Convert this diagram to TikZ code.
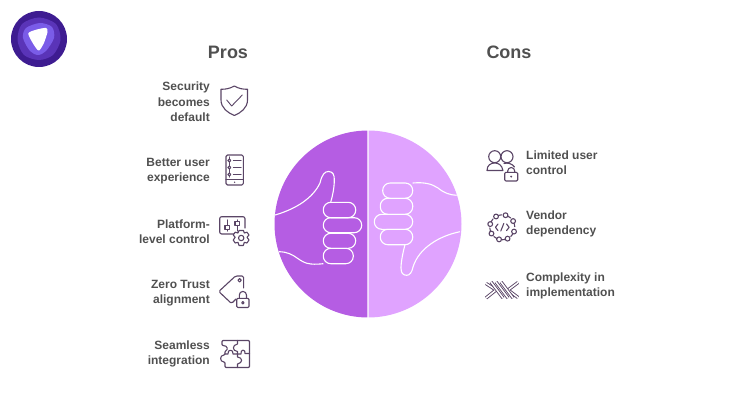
\documentclass[tikz,border=0pt]{standalone}
\usepackage{fontspec}
\setmainfont{Liberation Sans}
\usepackage{xcolor}
\usetikzlibrary{arrows.meta,positioning,calc}
\definecolor{prosfill}{HTML}{B55DE3}
\definecolor{consfill}{HTML}{E0A3FF}
\definecolor{iconline}{HTML}{5A4566}
\definecolor{textgray}{HTML}{505050}
\definecolor{logoa}{HTML}{3E1C91}
\definecolor{logob}{HTML}{5A34B8}
\definecolor{logoc}{HTML}{7A5CE8}
\begin{document}
\begin{tikzpicture}[
    x=1pt, y=-1pt,
    heading/.style={font=\fontsize{18}{22}\selectfont\bfseries, text=textgray, inner sep=0pt},
    proslabel/.style={font=\fontsize{12}{15.3}\selectfont\bfseries, text=textgray,
                      align=right, anchor=east, inner sep=0pt},
    conslabel/.style={font=\fontsize{12}{15.3}\selectfont\bfseries, text=textgray,
                      align=left, anchor=west, inner sep=0pt},
    icon/.style={draw=iconline, line width=1.1pt, line join=round, line cap=round},
    rope/.style={draw=iconline, line width=0.9pt, double=white, double distance=1.5pt},
    hand/.style={draw=white, line width=1.1pt},
    finger/.style={hand, rounded corners=7.4pt},
  ]
  \useasboundingbox (0,0) rectangle (740,420);

  % Logo
  \fill[logoa] (39,39) circle[radius=28];
  \fill[logob] plot[smooth cycle] coordinates {(39,17.5) (56,24) (60.5,40) (53,55) (39,60) (24,55) (17.5,40) (22,24)};
  \fill[logoc] plot[smooth cycle] coordinates {(40,23) (52,27) (54,38) (46,51) (38,55) (30,51) (23,38) (26,28)};
  \fill[white] plot[smooth cycle] coordinates {(28.5,33) (37,29.5) (46,28) (47.5,32) (43.5,44) (39,50.5) (36,48) (31,40)};

  % Headings
  \node[heading] (pros) at (228,52) {Pros};
  \node[heading] (cons) at (509,52) {Cons};

  % Disc
  \begin{scope}
    \clip (270,125) rectangle (367.3,325);
    \fill[prosfill] (368,224) circle[radius=93.5];
  \end{scope}
  \begin{scope}
    \clip (368.7,125) rectangle (470,325);
    \fill[consfill] (368,224) circle[radius=93.5];
  \end{scope}

  % Thumb up
  \draw[finger] (323.3,202.3) rectangle (355.7,217.7);
  \draw[finger] (323.3,217.7) rectangle (361.7,232.7);
  \draw[finger] (323.3,233.3) rectangle (355.7,248.3);
  \draw[finger] (323.3,248.3) rectangle (353.3,263.7);
  \draw[hand] (275,215) .. controls (296,209) and (313,198) .. (320,183)
    .. controls (322,174) and (325,171.5) .. (328.5,171.5)
    .. controls (333,171.5) and (334.5,175) .. (334.3,180)
    .. controls (334.3,188) and (332.5,196) .. (330.7,202.3);
  \draw[hand] (279,251.7) .. controls (296,252) and (298,263) .. (311,264)
    .. controls (316,264.5) and (320,264) .. (323.3,263.7);

  % Thumb down
  \draw[finger] (382.7,183) rectangle (412.7,198.3);
  \draw[finger] (380.3,198.3) rectangle (412.7,214.3);
  \draw[finger] (374.3,214.3) rectangle (412.7,229.3);
  \draw[finger] (380.3,229.3) rectangle (412.7,244.7);
  \draw[hand] (412.7,183) .. controls (425,182) and (432,184) .. (438,188)
    .. controls (444,193) and (450,195) .. (456.7,195.3);
  \draw[hand] (405,244.7) .. controls (403,252) and (401,262) .. (401,268)
    .. controls (401,273) and (403,275.3) .. (406.7,275.3)
    .. controls (410,275.3) and (412,272) .. (413,267)
    .. controls (419,248) and (439,236) .. (460,231.7);

  % Pros labels
  \node[proslabel] (security) at (210,102) {Security\\becomes\\default};
  \node[proslabel] (better) at (210,171) {Better user\\experience};
  \node[proslabel] (platform) at (210,232) {Platform-\\level control};
  \node[proslabel] (zerotrust) at (210,293) {Zero Trust\\alignment};
  \node[proslabel] (seamless) at (210,354) {Seamless\\integration};

  % Cons labels
  \node[conslabel] (limited) at (526,163) {Limited user\\control};
  \node[conslabel] (vendor) at (526,224) {Vendor\\dependency};
  \node[conslabel] (complexity) at (526,286) {Complexity in\\implementation};

  % Shield icon
  \draw[icon] (234.3,86) .. controls (230,88.5) and (226,89.3) .. (221,89.3)
    -- (221,100) .. controls (221,108) and (228,113) .. (234.3,115.5)
    .. controls (240.6,113) and (247.5,108) .. (247.5,100)
    -- (247.5,89.3) .. controls (242.5,89.3) and (238.5,88.5) .. (234.3,86) -- cycle;
  \draw[icon, line width=0.9pt] (226.7,100) -- (231.7,106) -- (242.3,95);

  % Phone icon
  \draw[icon, rounded corners=1.5pt] (226,155) rectangle (243.3,185);
  \draw[icon] (226,179.3) -- (243.3,179.3);
  \draw[icon] (229.3,157) -- (229.3,177);
  \foreach \y in {160.5,167.5,174.5} {
    \draw[icon, fill=white] (229.3,\y) circle[radius=1.5];
    \draw[icon] (233.3,\y) -- (241,\y);
  }
  \fill[iconline] (234.6,182.2) circle[radius=0.8];

  % Control icon
  \draw[icon, rounded corners=2pt] (236,234) -- (219.7,234) -- (219.7,216.7) -- (245,216.7) -- (245,228);
  \draw[icon] (227.3,220) -- (227.3,225.5) (227.3,229.5) -- (227.3,231);
  \draw[icon] (225,229.5) -- (229.6,229.5) -- (229.6,225.5) -- (225,225.5) -- cycle;
  \draw[icon] (237.3,220) -- (237.3,221.5) (237.3,225.5) -- (237.3,231);
  \draw[icon] (235,221.5) -- (239.6,221.5) -- (239.6,225.5) -- (235,225.5) -- cycle;
  \draw[icon, fill=white] (239,230.5) -- (243.5,230.5) -- (244.3,233)
    -- (247,232.2) -- (249,235) -- (247,237.3) -- (249,240) -- (247,243)
    -- (244.3,242.3) -- (243.3,245.5) -- (239,245.5) -- (238,242.3)
    -- (235.2,243) -- (233.2,240) -- (235.2,237.3) -- (233.2,235) -- (235.2,232.2)
    -- (238,233) -- cycle;
  \draw[icon] (241.2,238) circle[radius=2.7];

  % Tag icon
  \draw[icon, rounded corners=1.5pt] (236,299) -- (231.5,303.5) -- (218.8,291.5) -- (235.5,276)
    -- (243.6,276) -- (243.6,288);
  \draw[icon] (239.6,280.3) circle[radius=1.7];
  \draw[icon, rounded corners=1.2pt] (236.7,298.3) rectangle (249,307.5);
  \draw[icon] (239.3,298.3) -- (239.3,295) arc[start angle=180, end angle=360, x radius=3.6, y radius=3.6] -- (246.5,298.3);
  \draw[icon] (242.9,302.8) circle[radius=1.2];

  % Puzzle icon
  \draw[icon, rounded corners=1pt] (222,340.5) -- (249.5,340.5) -- (249.5,367.5) -- (225,367.5)
    -- (225,362) .. controls (219.5,362) and (219.5,355) .. (225,355)
    -- (225,351) .. controls (228,350) and (228,345.5) .. (222,345.5) -- cycle;
  \draw[icon] (237.5,340.5) -- (237.5,344) .. controls (232,345) and (232,351) .. (237.5,351.5)
    -- (237.5,354) -- (233,354) .. controls (234,349) and (227,349) .. (228,354) -- (225,354);
  \draw[icon] (249.5,353.5) -- (245,353.5) .. controls (246,349) and (240,349) .. (241,354) -- (237.5,354)
    -- (237.5,357) .. controls (243,357.5) and (243,363) .. (237.5,364) -- (237.5,367.5);

  % Users icon
  \draw[icon] (494.7,156.7) circle[radius=6];
  \draw[icon] (507,156.7) circle[radius=6];
  \draw[icon] (487,170.5) .. controls (487,165) and (491,163) .. (494.7,163)
    .. controls (498.5,163) and (502,165) .. (503,170.5) -- cycle;
  \draw[icon] (504,163.5) .. controls (508,162.5) and (512,163.5) .. (514.5,167);
  \draw[icon, rounded corners=1.2pt] (504.7,172.3) rectangle (517.7,181);
  \draw[icon] (507.7,172.3) -- (507.7,171) arc[start angle=180, end angle=360, x radius=3.5, y radius=3.5] -- (514.7,172.3);
  \fill[iconline] (511.2,176.6) circle[radius=1.1];

  % Vendor icon
  \foreach \a in {20,65,105,150,195,240,285,330} {
    \draw[icon] ($(502.3,227.3)+(\a:12.5)$) circle[radius=2.4];
    \draw[icon] ($(502.3,227.3)+(\a+11:12.5)$) -- ($(502.3,227.3)+(\a+27:12.5)$);
  }
  \draw[icon] (498,224) -- (495.5,227.3) -- (498,230.6);
  \draw[icon] (506.6,224) -- (509.1,227.3) -- (506.6,230.6);
  \draw[icon] (503.8,223.5) -- (500.8,231);

  % Knot icon
  \draw[rope] (486,283.5) -- (496,290) -- (486,298);
  \draw[rope] (518,282.5) -- (508,290) -- (518,297.5);
  \foreach \o in {-3,2,7} {
    \draw[rope] (494+\o,282) -- (506+\o,298);
  }
\end{tikzpicture}
\end{document}
